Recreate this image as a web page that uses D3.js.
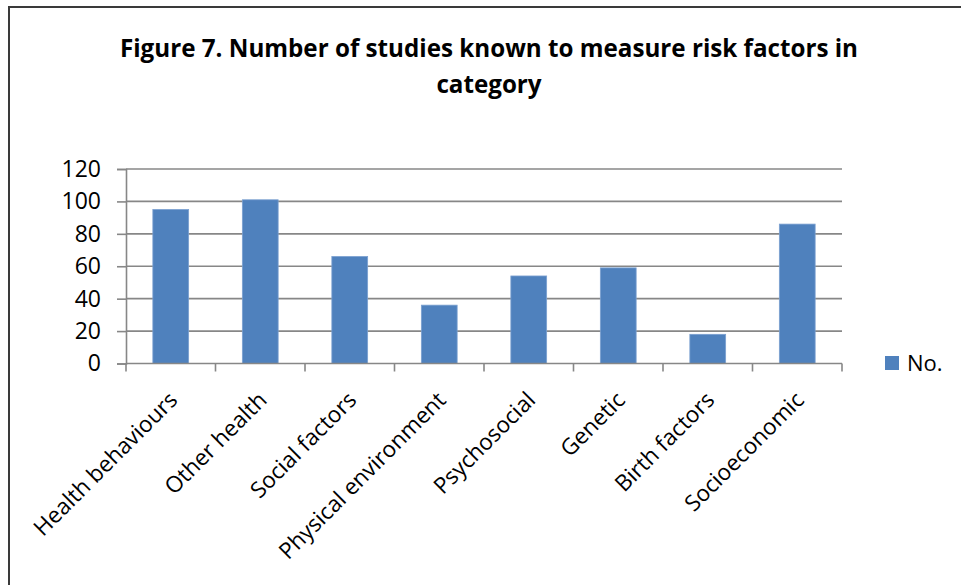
<!DOCTYPE html>
<html>
<head>
<meta charset="utf-8">
<script src="https://cdn.jsdelivr.net/npm/d3@7"></script>
<style>
  html, body { margin: 0; padding: 0; background: #fff; }
  svg { display: block; }
  text { font-family: "Open Sans", "Noto Sans", sans-serif; fill: #000; }
</style>
</head>
<body>
<svg id="chart" width="961" height="585"></svg>
<script>
// Risk-factor categories and the number of studies measuring each
const categories = ["Health behaviours", "Other health", "Social factors", "Physical environment",
                    "Psychosocial", "Genetic", "Birth factors", "Socioeconomic"];
const counts = [95, 101, 66, 36, 54, 59, 18, 86];
const yTicks = [0, 20, 40, 60, 80, 100, 120];
const seriesName = "No.";
const titleLines = ["Figure 7. Number of studies known to measure risk factors in", "category"];

const svg = d3.select("#chart");
const W = 961, H = 585;
const plot = { left: 126, right: 842, top: 169, bottom: 363.5 };

// Outer chart frame (top and left edges visible)
svg.append("path")
  .attr("d", `M9,${H} V7 H${W}`)
  .attr("fill", "none")
  .attr("stroke", "#3a3a3a")
  .attr("stroke-width", 2);

// Title
const title = svg.append("text")
  .attr("text-anchor", "middle")
  .style("font-weight", "bold")
  .style("font-size", "24.2px");
titleLines.forEach((t, i) => {
  title.append("tspan").attr("x", 489).attr("y", 57 + i * 36).text(t);
});

const x = d3.scaleBand().domain(categories).range([plot.left, plot.right]).paddingInner(0.6).paddingOuter(0.3);
const y = d3.scaleLinear().domain([0, 120]).range([plot.bottom, plot.top]);
const xEdges = d3.scaleLinear().domain([0, categories.length]).range([plot.left, plot.right]);

const gridColor = "#878787";

// Horizontal gridlines
svg.append("g")
  .selectAll("line")
  .data(yTicks.filter(d => d > 0))
  .join("line")
  .attr("x1", plot.left).attr("x2", plot.right)
  .attr("y1", d => y(d)).attr("y2", d => y(d))
  .attr("stroke", gridColor).attr("stroke-width", 1.6);

// Y axis
const yAxis = svg.append("g")
  .attr("transform", `translate(${plot.left},0)`)
  .call(d3.axisLeft(y).tickValues(yTicks).tickSize(9).tickPadding(16));
yAxis.select(".domain").attr("stroke", gridColor).attr("stroke-width", 1.6);
yAxis.selectAll(".tick line").attr("stroke", gridColor).attr("stroke-width", 1.6);
yAxis.selectAll(".tick text")
  .style("font-size", "23px")
  .style("font-family", "\"Open Sans\", sans-serif")
  .attr("fill", "#000");

// Bars
svg.append("g")
  .selectAll("rect")
  .data(categories.map((c, i) => ({ c, v: counts[i] })))
  .join("rect")
  .attr("x", d => x(d.c))
  .attr("width", x.bandwidth())
  .attr("y", d => y(d.v))
  .attr("height", d => y(0) - y(d.v))
  .attr("fill", "#4f81bd")
  .attr("stroke", "#7ba0d0")
  .attr("stroke-width", 0.8);

// X axis baseline with tick marks at category edges
svg.append("line")
  .attr("x1", plot.left).attr("x2", plot.right)
  .attr("y1", y(0)).attr("y2", y(0))
  .attr("stroke", gridColor).attr("stroke-width", 1.6);
svg.append("g")
  .selectAll("line")
  .data(d3.range(categories.length + 1))
  .join("line")
  .attr("x1", d => xEdges(d)).attr("x2", d => xEdges(d))
  .attr("y1", y(0)).attr("y2", y(0) + 8)
  .attr("stroke", gridColor).attr("stroke-width", 1.6);

// Rotated category labels
svg.append("g")
  .selectAll("text")
  .data(categories)
  .join("text")
  .attr("transform", d => `translate(${x(d) + x.bandwidth() / 2 + 8},${y(0) + 38}) rotate(-45)`)
  .attr("text-anchor", "end")
  .style("font-size", "22.5px")
  .text(d => d);

// Legend
svg.append("rect")
  .attr("x", 885).attr("y", 356).attr("width", 14).attr("height", 14)
  .attr("fill", "#4f81bd");
svg.append("text")
  .attr("x", 907).attr("y", 371)
  .style("font-size", "22px")
  .text(seriesName);
</script>
</body>
</html>
